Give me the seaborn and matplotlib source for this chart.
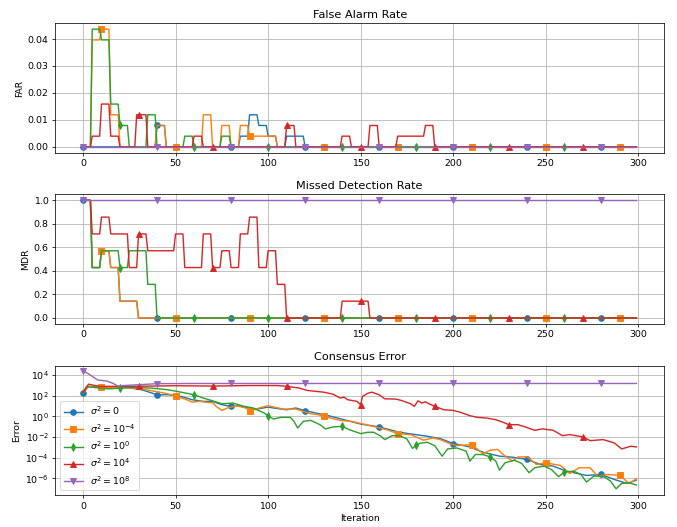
import numpy as np
import matplotlib
matplotlib.use("Agg")
import matplotlib.pyplot as plt
import seaborn as sns

# ---------------- data ----------------
N_ITER = 300
iters = np.arange(N_ITER)

labels = [r'$\sigma^2 = 0$', r'$\sigma^2 = 10^{-4}$', r'$\sigma^2 = 10^{0}$',
          r'$\sigma^2 = 10^{4}$', r'$\sigma^2 = 10^{8}$']
colors = ['#1f77b4', '#ff7f0e', '#2ca02c', '#d62728', '#9467bd']
markers = ['o', 's', 'd', '^', 'v']
mark_offsets = [0, 10, 20, 30, 0]

# False alarm rate: piecewise levels (iteration where level starts, count of 1/252)
FAR_UNIT = 1.0 / 252
far_blue_start = [0, 40, 45, 85, 90, 95, 100, 105, 110, 120]
far_blue_level = [0, 2, 0, 1, 3, 2, 1, 0, 1, 0]
far_orange_start = [0, 5, 10, 15, 20, 40, 45, 65, 70, 75, 80, 85, 90, 105]
far_orange_level = [0, 10, 11, 3, 0, 2, 0, 3, 0, 2, 0, 2, 1, 0]
far_green_start = [0, 5, 10, 15, 20, 25, 35, 40, 55, 60, 75, 80]
far_green_level = [0, 11, 10, 4, 2, 0, 3, 0, 1, 0, 1, 0]
far_red_start = [0, 5, 10, 15, 20, 29, 35, 60, 65, 110, 115, 140, 145, 155, 160, 170, 185, 190]
far_red_level = [0, 1, 4, 1, 0, 3, 0, 1, 0, 2, 0, 1, 0, 2, 0, 1, 2, 0]
far_purple_start = [0]
far_purple_level = [0]

# Missed detection rate: piecewise levels (count of 1/7)
MDR_UNIT = 1.0 / 7
mdr_blue_start = [0, 5, 10, 15, 20, 30]
mdr_blue_level = [7, 3, 4, 3, 1, 0]
mdr_orange_start = [0, 5, 10, 15, 20, 30]
mdr_orange_level = [7, 3, 4, 3, 1, 0]
mdr_green_start = [0, 5, 10, 20, 25, 35, 40]
mdr_green_level = [7, 3, 4, 3, 4, 2, 0]
mdr_red_start = [0, 5, 10, 15, 25, 30, 35, 50, 55, 65, 70, 75, 80, 85, 90, 95, 100, 105, 110, 140, 155]
mdr_red_level = [7, 5, 6, 5, 3, 5, 4, 5, 3, 5, 3, 4, 3, 5, 6, 3, 4, 2, 0, 1, 0]
mdr_purple_start = [0]
mdr_purple_level = [7]

# Consensus error: points (iteration, log10 error)
err_blue_x = [0, 2, 8, 15, 26, 32, 40, 46, 53, 59, 65, 70, 75, 80, 84, 89, 92, 100, 103, 110,
              115, 120, 126, 134, 141, 150, 160, 171, 186, 193, 200, 209, 216, 225, 232, 240,
              247, 254, 261, 272, 280, 287, 294, 299]
err_blue_log = [2.24, 2.88, 2.88, 2.85, 2.72, 2.55, 2.08, 2.08, 1.92, 1.6, 1.44, 1.44, 1.12, 0.96,
                1.02, 0.8, 0.63, 0.89, 0.8, 0.63, 0.8, 0.54, 0.31, 0.0, -0.33, -0.75, -1.03,
                -1.54, -1.93, -2.15, -2.63, -2.96, -3.47, -3.85, -3.95, -4.17, -4.65, -4.81,
                -5.29, -5.71, -5.62, -6.1, -6.48, -6.16]
err_orange_x = [0, 3, 10, 18, 29, 36, 44, 50, 56, 59, 63, 67, 70, 72, 75, 78, 83, 88, 90, 97,
                100, 103, 108, 115, 119, 123, 127, 130, 139, 145, 153, 164, 170, 177, 184, 189,
                193, 198, 202, 210, 216, 220, 224, 227, 232, 235, 240, 245, 250, 258, 263, 268,
                274, 278, 283, 290, 295, 299]
err_orange_log = [2.24, 2.85, 2.81, 2.78, 2.72, 2.5, 2.24, 1.98, 1.6, 1.37, 1.45, 1.34, 1.3, 0.96,
                  0.57, 0.8, 1.02, 0.8, 0.54, 0.89, 1.02, 0.9, 0.7, 0.7, 0.47, 0.25, 0.15, 0.0,
                  -0.4, -0.49, -0.81, -1.29, -1.67, -1.77, -2.31, -2.09, -2.25, -2.63, -2.83,
                  -2.73, -3.6, -3.28, -3.2, -3.69, -4.33, -3.92, -3.92, -4.65, -4.49, -4.75,
                  -5.53, -4.97, -4.97, -5.78, -5.62, -5.71, -6.48, -6.03]
err_green_x = [0, 2, 9, 14, 20, 26, 37, 46, 53, 60, 65, 71, 75, 81, 87, 92, 98, 100, 103, 107,
               112, 114, 116, 119, 123, 128, 131, 135, 140, 144, 150, 154, 157, 161, 163, 167,
               171, 175, 178, 180, 182, 186, 190, 194, 197, 202, 207, 209, 212, 216, 220, 223,
               225, 228, 233, 237, 241, 244, 249, 253, 257, 260, 265, 269, 272, 276, 281, 285,
               288, 291, 295, 299]
err_green_log = [2.24, 2.88, 2.72, 2.65, 2.72, 2.8, 2.72, 2.56, 2.33, 2.08, 1.76, 1.44, 1.21,
                 1.28, 0.96, 0.8, 0.31, 0.0, -0.26, -0.1, -0.1, -0.49, -1.13, -0.49, -0.39,
                 -0.81, -1.22, -1.03, -0.97, -1.3, -1.67, -1.54, -1.54, -1.93, -2.25, -1.87,
                 -1.87, -2.19, -3.1, -2.8, -2.6, -2.51, -2.83, -3.85, -3.15, -3.06, -3.37, -4.33,
                 -3.69, -3.69, -3.92, -4.33, -5.2, -4.49, -4.24, -4.55, -5.45, -4.97, -4.81,
                 -5.13, -5.83, -5.39, -5.29, -5.62, -6.35, -5.78, -5.78, -6.26, -7.0, -6.48,
                 -6.42, -6.64]
err_red_x = [0, 3, 9, 20, 30, 50, 70, 90, 105, 110, 117, 121, 130, 135, 139, 141, 143, 148, 150,
             151, 154, 156, 160, 163, 169, 172, 177, 179, 181, 183, 185, 187, 190, 195, 200, 204,
             209, 213, 218, 223, 227, 230, 235, 239, 244, 248, 254, 259, 263, 270, 274, 281, 287,
             291, 296, 299]
err_red_log = [2.3, 3.1, 2.88, 2.9, 2.9, 2.95, 2.92, 2.97, 2.97, 2.9, 2.72, 2.5, 2.33, 2.14,
               1.76, 1.85, 1.6, 1.44, 1.12, 1.92, 2.24, 2.33, 2.08, 1.69, 1.66, 1.53, 1.21, 0.96,
               1.5, 1.28, 1.4, 1.2, 0.96, 0.63, 0.57, 0.38, 0.06, -0.1, -0.17, -0.33, -0.58,
               -0.81, -0.81, -1.03, -1.35, -1.22, -1.35, -1.87, -1.77, -1.99, -2.35, -2.25,
               -2.57, -3.15, -2.89, -2.96]
err_purple_x = [0, 3, 8, 13, 16, 19, 20, 30, 40, 60, 80, 120, 160, 200, 240, 280, 299]
err_purple_log = [4.4, 4.1, 3.5, 3.4, 3.2, 2.9, 2.95, 3.05, 3.15, 3.17, 3.17, 3.17, 3.17, 3.17,
                  3.17, 3.17, 3.17]

err_yticks = [1e-6, 1e-4, 1e-2, 1e0, 1e2, 1e4]
x_ticks = [0, 50, 100, 150, 200, 250, 300]


def expand(starts, levels, unit):
    arr = np.zeros(N_ITER)
    for s, v in zip(starts, levels):
        arr[s:] = v * unit
    return arr


far_series = [expand(far_blue_start, far_blue_level, FAR_UNIT),
              expand(far_orange_start, far_orange_level, FAR_UNIT),
              expand(far_green_start, far_green_level, FAR_UNIT),
              expand(far_red_start, far_red_level, FAR_UNIT),
              expand(far_purple_start, far_purple_level, FAR_UNIT)]
mdr_series = [expand(mdr_blue_start, mdr_blue_level, MDR_UNIT),
              expand(mdr_orange_start, mdr_orange_level, MDR_UNIT),
              expand(mdr_green_start, mdr_green_level, MDR_UNIT),
              expand(mdr_red_start, mdr_red_level, MDR_UNIT),
              expand(mdr_purple_start, mdr_purple_level, MDR_UNIT)]
err_series = [(err_blue_x, err_blue_log), (err_orange_x, err_orange_log),
              (err_green_x, err_green_log), (err_red_x, err_red_log),
              (err_purple_x, err_purple_log)]

# ---------------- plot ----------------
DPI = 67.7
fig, axes = plt.subplots(3, 1, figsize=(677 / DPI, 527 / DPI), dpi=DPI)
fig.subplots_adjust(left=0.0817, right=0.981, top=1 - 23.3 / 527, bottom=1 - 495 / 527,
                    hspace=0.322)


def common(c, m):
    return dict(color=c, marker=m, markeredgecolor=c, markeredgewidth=1.0)


ax = axes[0]
for y, c, m, off in zip(far_series, colors, markers, mark_offsets):
    sns.lineplot(x=iters, y=y, ax=ax, markevery=(off, 40), **common(c, m))
ax.set_title('False Alarm Rate')
ax.set_ylabel('FAR')

ax = axes[1]
for y, c, m, off in zip(mdr_series, colors, markers, mark_offsets):
    sns.lineplot(x=iters, y=y, ax=ax, markevery=(off, 40), **common(c, m))
ax.set_title('Missed Detection Rate')
ax.set_ylabel('MDR')

ax = axes[2]
for (xs, lg), c, m, off, lab in zip(err_series, colors, markers, mark_offsets, labels):
    xs = np.asarray(xs)
    vals = np.power(10.0, np.asarray(lg))
    idx = [i for i, x in enumerate(xs) if x >= off and (x - off) % 40 == 0]
    sns.lineplot(x=xs, y=vals, ax=ax, markevery=idx, label=lab, **common(c, m))
ax.set_yscale('log')
ax.set_ylim(10 ** -7.6, 10 ** 4.9)
ax.set_yticks(err_yticks)
ax.set_title('Consensus Error')
ax.set_ylabel('Error')
ax.set_xlabel('Iteration')
ax.legend(loc='lower left')

for ax in axes:
    ax.set_xlim(-14.95, 313.95)
    ax.set_xticks(x_ticks)
    ax.grid(True)

fig.savefig('out.png', dpi=DPI)
